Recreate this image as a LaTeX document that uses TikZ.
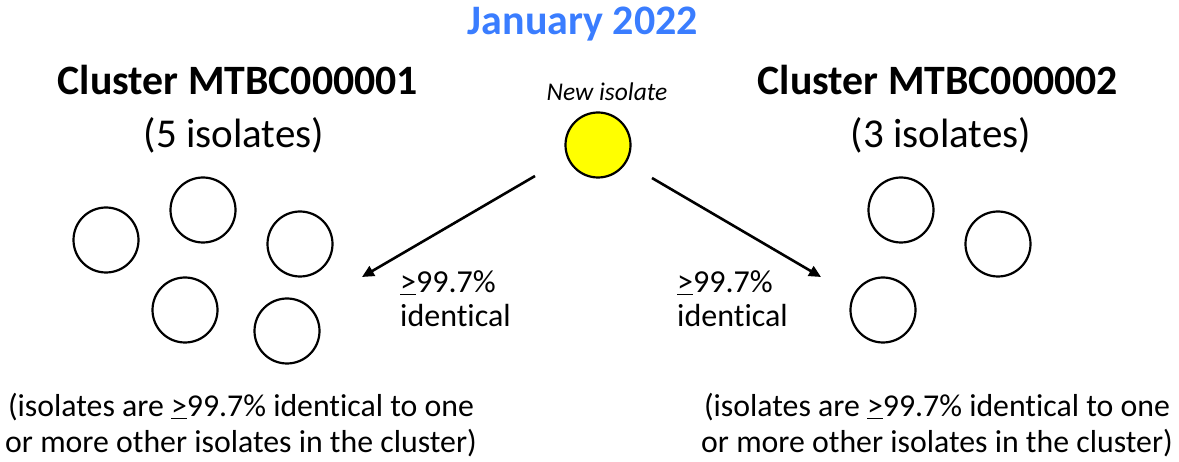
\documentclass[tikz,border=0pt]{standalone}
\usepackage{fontspec}
\setmainfont{Carlito}[Ligatures={NoCommon}]
\usetikzlibrary{arrows.meta}
\definecolor{titleblue}{RGB}{58,125,255}
\definecolor{isoyellow}{RGB}{255,255,0}
\begin{document}
\begin{tikzpicture}[x=1pt,y=-1pt,
  iso/.style={circle,draw=black,line width=2.2pt,minimum size=65pt,inner sep=0pt},
  newiso/.style={iso,fill=isoyellow},
  link/.style={line width=2.6pt,-{Triangle[length=12pt,width=11pt]}},
  head/.style={font=\fontsize{41.8}{48}\selectfont\bfseries,anchor=base,inner sep=0pt},
  sub/.style={font=\fontsize{41}{48}\selectfont,anchor=base,inner sep=0pt},
  lbl/.style={font=\fontsize{32}{36}\selectfont,anchor=base west,inner sep=0pt},
  note/.style={font=\fontsize{31.8}{36}\selectfont,anchor=base,inner sep=0pt}]
\useasboundingbox (0,0) rectangle (1179,462);
\node[font=\fontsize{42}{48}\selectfont\bfseries,text=titleblue,anchor=base,inner sep=0pt] (title) at (583,35) {January 2022};
\node[head] (h1) at (238,95) {Cluster MTBC000001};
\node[sub] (s1) at (234,148) {(5 isolates)};
\node[head] (h2) at (938,95) {Cluster MTBC000002};
\node[sub] (s2) at (941,148) {(3 isolates)};
\node[font=\fontsize{25.5}{30}\selectfont\itshape,anchor=base,inner sep=0pt] (newlbl) at (607,101) {New isolate};
\node[newiso] (new) at (598,145) {};
\node[iso] (a1) at (106,240) {};
\node[iso] (a2) at (203,210) {};
\node[iso] (a3) at (300,244) {};
\node[iso] (a4) at (185,310) {};
\node[iso] (a5) at (287,331) {};
\node[iso] (b1) at (901,210) {};
\node[iso] (b2) at (998,244) {};
\node[iso] (b3) at (883,310) {};
\coordinate (ls) at (535,176);
\coordinate (le) at (362,277);
\coordinate (rs) at (652,178);
\coordinate (re) at (821,277);
\draw[link] (ls) -- (le);
\draw[link] (rs) -- (re);
\node[lbl] (l1a) at (400,293) {\underline{>}99.7\%};
\node[lbl] (l1b) at (400,327) {identical};
\node[lbl] (l2a) at (677,293) {\underline{>}99.7\%};
\node[lbl] (l2b) at (677,327) {identical};
\node[note] (n1a) at (241,417) {(isolates are \underline{>}99.7\% identical to one};
\node[note] (n1b) at (241,453) {or more other isolates in the cluster)};
\node[note] (n2a) at (937,417) {(isolates are \underline{>}99.7\% identical to one};
\node[note] (n2b) at (937,453) {or more other isolates in the cluster)};
\end{tikzpicture}
\end{document}
